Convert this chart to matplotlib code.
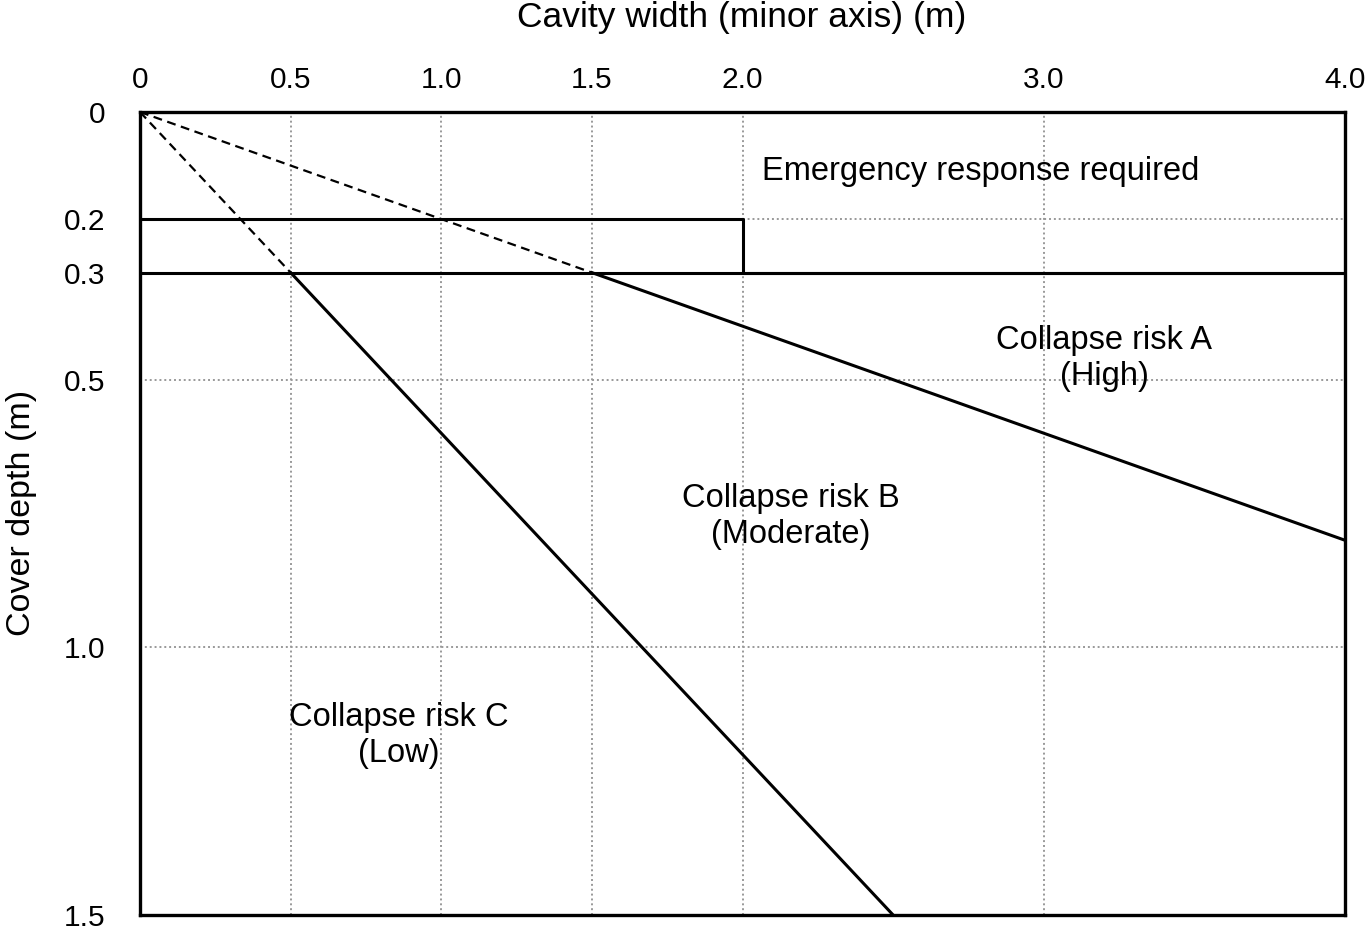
import matplotlib
matplotlib.use("Agg")
import matplotlib.pyplot as plt

plt.rcParams['font.family'] = ['Liberation Sans', 'DejaVu Sans']

# Data
x_ticks = [0, 0.5, 1.0, 1.5, 2.0, 3.0, 4.0]
x_ticklabels = ["0", "0.5", "1.0", "1.5", "2.0", "3.0", "4.0"]
y_ticks = [0, 0.2, 0.3, 0.5, 1.0, 1.5]
y_ticklabels = ["0", "0.2", "0.3", "0.5", "1.0", "1.5"]

# boundary lines (width, depth)
dash1_x = [0, 1.5]; dash1_y = [0, 0.3]
dash2_x = [0, 0.5]; dash2_y = [0, 0.3]
emerg_x = [0, 2.0, 2.0, 4.0]; emerg_y = [0.2, 0.2, 0.3, 0.3]
lower_x = [0, 4.0]; lower_y = [0.3, 0.3]
lineA_x = [1.5, 4.0]; lineA_y = [0.3, 0.8]
lineC_x = [0.5, 2.5]; lineC_y = [0.3, 1.5]

labels = ["Emergency response required", "Collapse risk A\n(High)",
          "Collapse risk B\n(Moderate)", "Collapse risk C\n(Low)"]
label_x = [2.79, 3.2, 2.16, 0.86]
label_y = [0.112, 0.46, 0.755, 1.165]

fig = plt.figure(figsize=(13.67, 9.32), dpi=100)
ax = fig.add_axes([140/1367, 1-915/932, 1205/1367, 803/932])

ax.set_xlim(0, 4.0)
ax.set_ylim(1.5, 0)

grid_kw = dict(color='#999999', linestyle=(0, (1, 1.5)), linewidth=1.4, zorder=1)
for gx in [0.5, 1.0, 1.5, 2.0, 3.0]:
    ax.axvline(gx, **grid_kw)
for gy in [0.2, 0.5, 1.0]:
    ax.axhline(gy, **grid_kw)

lw = 2.2
ax.plot(dash1_x, dash1_y, color='black', linestyle=(0, (4, 2.5)), linewidth=1.6, zorder=3)
ax.plot(dash2_x, dash2_y, color='black', linestyle=(0, (4, 2.5)), linewidth=1.6, zorder=3)
ax.plot(emerg_x, emerg_y, color='black', linewidth=lw, zorder=3)
ax.plot(lower_x, lower_y, color='black', linewidth=lw, zorder=3)
ax.plot(lineA_x, lineA_y, color='black', linewidth=lw, zorder=3)
ax.plot(lineC_x, lineC_y, color='black', linewidth=lw, zorder=3)

for t, lx, ly in zip(labels, label_x, label_y):
    ax.text(lx, ly, t, ha='center', va='center', fontsize=23.5, linespacing=1.2, zorder=4)

ax.xaxis.tick_top()
ax.set_xticks(x_ticks)
ax.set_xticklabels(x_ticklabels)
ax.set_yticks(y_ticks)
ax.set_yticklabels(y_ticklabels)
ax.tick_params(axis='x', length=0, pad=13, labelsize=21.5)
ax.tick_params(axis='y', length=0, pad=25, labelsize=21.5)

fig.text(742/1367, 1-18/932, "Cavity width (minor axis) (m)", fontsize=25.5,
         ha='center', va='center')
fig.text(22/1367, 1-513/932, "Cover depth (m)", fontsize=24.5, rotation=90,
         ha='center', va='center')

for s in ax.spines.values():
    s.set_linewidth(2.4)
    s.set_zorder(5)

fig.savefig("out.png", dpi=100)
